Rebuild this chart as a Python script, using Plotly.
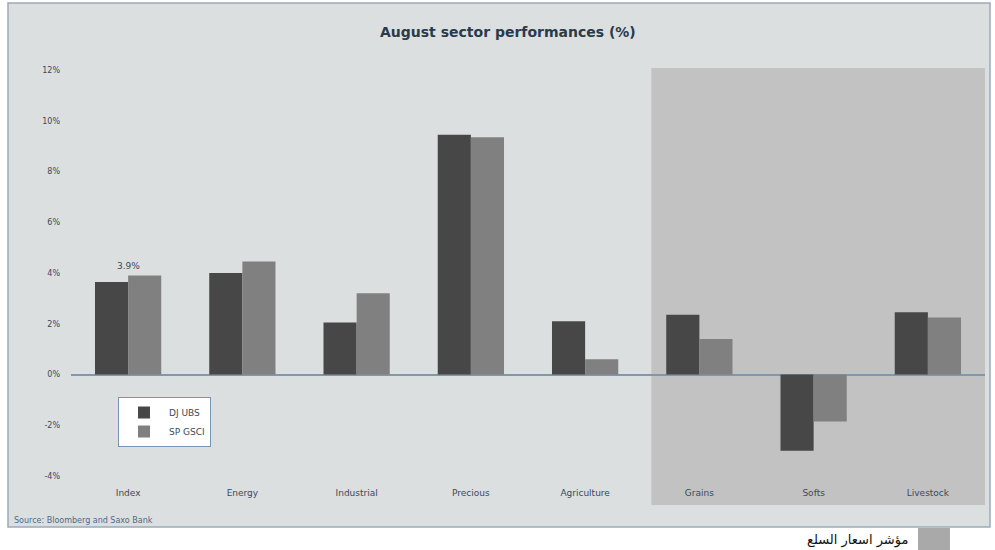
import plotly.graph_objects as go

categories = ["Index", "Energy", "Industrial", "Precious", "Agriculture", "Grains", "Softs", "Livestock"]
dj_ubs = [3.65, 4.0, 2.05, 9.45, 2.1, 2.35, -3.0, 2.45]
sp_gsci = [3.9, 4.45, 3.2, 9.35, 0.6, 1.4, -1.85, 2.25]
y_ticks = [-4, -2, 0, 2, 4, 6, 8, 10, 12]
y_tick_labels = ["-4%", "-2%", "0%", "2%", "4%", "6%", "8%", "10%", "12%"]

W, H = 995, 550
L, R, T, B = 71, 985, 70, 476


def px_x(p):
    return (p - L) / (R - L)


def px_y(p):
    return (B - p) / (B - T)


fig = go.Figure()
fig.add_trace(go.Bar(name="DJ UBS", x=categories, y=dj_ubs, marker_color="#474747",
                     marker_line_width=0))
fig.add_trace(go.Bar(name="SP GSCI", x=categories, y=sp_gsci, marker_color="#808080",
                     marker_line_width=0))

shapes = [
    # outer chart frame
    dict(type="rect", xref="paper", yref="paper", x0=px_x(8), x1=px_x(990), y0=px_y(527), y1=px_y(3),
         fillcolor="#dcdfe0", line=dict(color="#9aaab8", width=1.5), layer="below"),
    # shaded commodity area
    dict(type="rect", xref="x", yref="paper", x0=4.58, x1=7.5, y0=px_y(505), y1=px_y(68),
         fillcolor="#c2c2c2", line=dict(width=0), layer="below"),
    # small gray key square below
    dict(type="rect", xref="paper", yref="paper", x0=px_x(918), x1=px_x(950), y0=px_y(550), y1=px_y(528),
         fillcolor="#a9a9a9", line=dict(width=0), layer="below"),
]

annotations = [
    dict(text="<b>August sector performances (%)</b>", xref="paper", yref="paper",
         x=px_x(508), y=px_y(32), showarrow=False, font=dict(size=14, color="#2a3a4a"),
         xanchor="center", yanchor="middle"),
    dict(text="3.9%", xref="x", yref="y", x=categories[0], y=4.0, showarrow=False,
         yanchor="bottom", font=dict(size=9, color="#3a4a5a")),
    dict(text="Source: Bloomberg and Saxo Bank", xref="paper", yref="paper",
         x=px_x(12), y=px_y(520), showarrow=False, xanchor="left", yanchor="middle",
         font=dict(size=8, color="#4a6a8a")),
    dict(text="مؤشر اسعار السلع", xref="paper", yref="paper",
         x=px_x(910), y=px_y(540), showarrow=False, xanchor="right", yanchor="middle",
         font=dict(size=13, color="#111111", family="DejaVu Sans")),
]

fig.update_layout(
    width=W, height=H,
    margin=dict(l=L, r=W - R, t=T, b=H - B, pad=0),
    paper_bgcolor="white",
    plot_bgcolor="rgba(0,0,0,0)",
    barmode="group",
    bargap=0.42,
    bargroupgap=0,
    font=dict(family="DejaVu Sans", size=9, color="#3a4a5a"),
    shapes=shapes,
    annotations=annotations,
    showlegend=True,
    legend=dict(x=px_x(118), y=px_y(397), xanchor="left", yanchor="top",
                bgcolor="white", bordercolor="#7a94b0", borderwidth=1,
                font=dict(size=9, color="#3a4a5a"), itemwidth=40,
                tracegroupgap=12),
    xaxis=dict(showgrid=False, showline=False, ticks="", tickfont=dict(size=9, color="#3a4a5a"),
               range=[-0.5, 7.5], ticklabelstandoff=10),
    yaxis=dict(range=[-4, 12], tickvals=y_ticks, ticktext=y_tick_labels, showgrid=False,
               zeroline=True, zerolinecolor="#7f98ad", zerolinewidth=1.5, showline=False,
               tickfont=dict(size=8, color="#3a4a5a"), ticks="", ticklabelstandoff=10),
)

fig.write_html("out.html", config={"displayModeBar": False},
               post_script="document.body.style.margin='0';document.body.style.overflow='hidden';")
